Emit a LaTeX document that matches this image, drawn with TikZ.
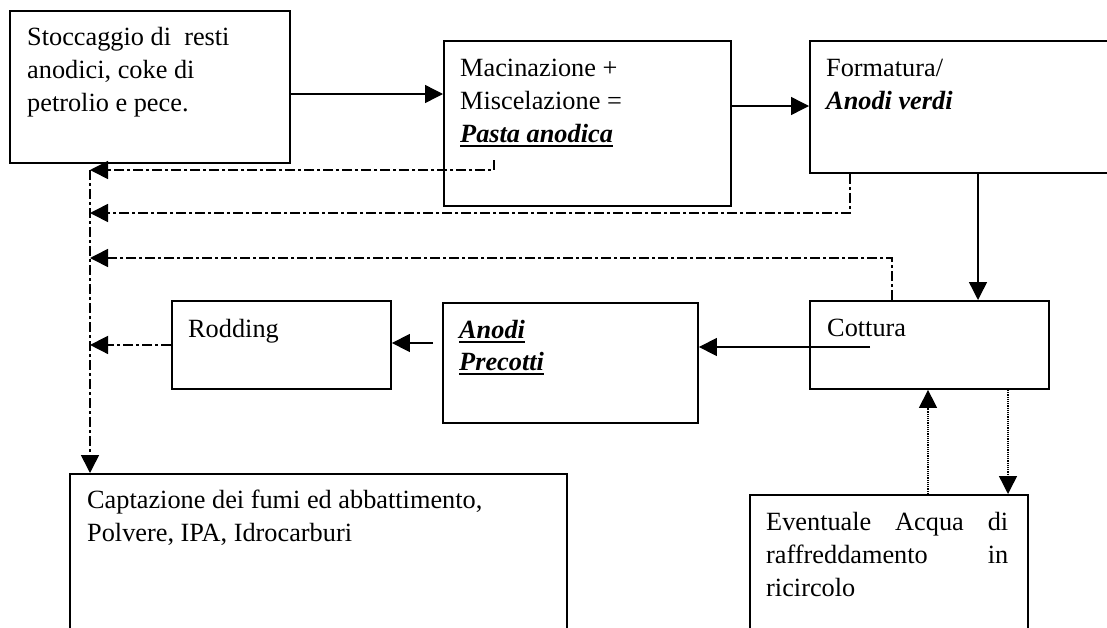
\documentclass[tikz,border=0pt]{standalone}
\usepackage{fontspec}
\setmainfont{Liberation Serif}
\usetikzlibrary{arrows.meta}
\newcommand\ulbi[1]{\leavevmode\vtop{\hbox{\bfseries\itshape #1}\kern2.5pt\hrule height 2.4pt}}
\begin{document}
\begin{tikzpicture}[x=1pt,y=-1pt,
 box/.style={draw,line width=1.9pt,inner sep=0pt,anchor=north west},
 txt/.style={anchor=base west,inner sep=0pt,font=\fontsize{26.3}{33}\selectfont},
 arr/.style={line width=1.4pt,-{Triangle[length=18pt,width=18pt]}},
 dd/.style={arr,line width=1.6pt,dash pattern=on 10pt off 3pt on 3pt off 3pt},
 dt/.style={arr,dash pattern=on 1.2pt off 1pt}]
\useasboundingbox (0,0) rectangle (1107,627);
\clip (0,0) rectangle (1107,627);
% boxes
\node[box,minimum width=280pt,minimum height=152pt] (b1) at (9,10) {};
\node[box,minimum width=287pt,minimum height=165pt] (b2) at (443,40) {};
\node[box,minimum width=330pt,minimum height=132pt] (b3) at (809,40) {};
\node[box,minimum width=239pt,minimum height=88pt] (b4) at (809,300) {};
\node[box,minimum width=255pt,minimum height=120pt] (b5) at (442,302) {};
\node[box,minimum width=219pt,minimum height=88pt] (b6) at (171,300) {};
\node[box,minimum width=497pt,minimum height=200pt] (b7) at (69,473) {};
\node[box,minimum width=278pt,minimum height=160pt] (b8) at (749,494) {};
% texts
\node[txt] (t1) at (27,45) {\parbox[t]{300pt}{\raggedright Stoccaggio di\ \ resti\\anodici, coke di\\petrolio e pece.}};
\node[txt] (t2) at (460,76) {\parbox[t]{300pt}{\raggedright Macinazione +\\Miscelazione =\\\ulbi{Pasta anodica}}};
\node[txt] (t3) at (826,76) {\parbox[t]{300pt}{\raggedright Formatura/\\\textbf{\textit{Anodi verdi}}}};
\node[txt] (t4) at (827,336) {Cottura};
\node[txt] (t6) at (188,337) {Rodding};
\node[txt] (t5) at (459,338) {\parbox[t]{200pt}{\raggedright\baselineskip=32pt \ulbi{Anodi}\\\ulbi{Precotti}}};
\node[txt] (t7) at (87,508) {\parbox[t]{470pt}{\raggedright Captazione dei fumi ed abbattimento,\\Polvere, IPA, Idrocarburi}};
\node[txt] (t8) at (766,530) {\parbox[t]{242pt}{Eventuale\hfill Acqua\hfill di\\raffreddamento\hfill in\\ricircolo}};
% coordinates
\coordinate (y94) at (0,94);
\coordinate (y106) at (0,106);
\coordinate (x978) at (978,0);
\coordinate (p1) at (494,160);
\coordinate (vtop) at (90,170);
\coordinate (f1) at (850,213);
\coordinate (k1) at (892,258);
\coordinate (c1) at (870,347);
\coordinate (a2) at (433,343);
\coordinate (w1) at (928,0);
\coordinate (w2) at (1008,0);
% solid flow
\draw[arr] (b1.east |- y94) -- (b2.west |- y94);
\draw[arr] (b2.east |- y106) -- (b3.west |- y106);
\draw[arr] (b3.south -| x978) -- (b4.north -| x978);
\draw[arr] (c1) -- (c1 -| b5.east);
\draw[arr] (a2) -- (a2 -| b6.east);
% dash-dot emissions
\draw[dd] (p1) |- (vtop);
\draw[dd] (b3.south -| f1) |- (vtop |- f1);
\draw[dd] (b4.north -| k1) |- (vtop |- k1);
\draw[dd] (b6.west) -- (b6.west -| vtop);
\draw[dd] (vtop) -- (b7.north -| vtop);
% dotted water loop
\draw[dt] (b8.north -| w1) -- (b4.south -| w1);
\draw[dt] (b4.south -| w2) -- (b8.north -| w2);
\end{tikzpicture}
\end{document}
